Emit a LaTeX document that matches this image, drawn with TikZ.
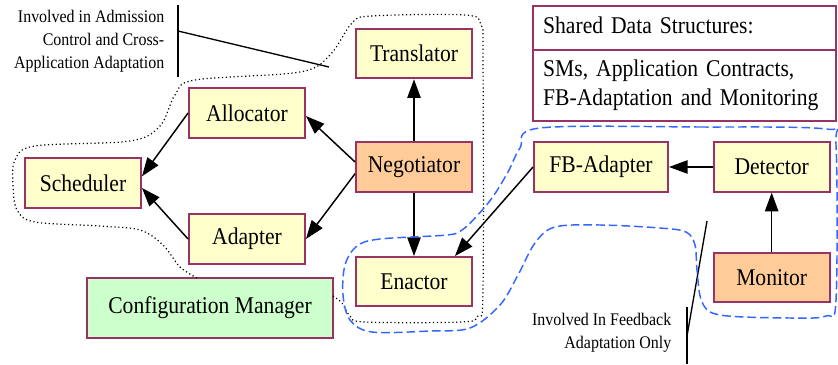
\documentclass[tikz,border=0pt]{standalone}
\usepackage{fontspec}
\setmainfont{Liberation Serif}[FakeStretch=0.9]
\usepackage{xcolor}
\usetikzlibrary{arrows.meta,shapes.multipart}

\definecolor{rim}{HTML}{993366}
\definecolor{paleyellow}{HTML}{FFFFCC}
\definecolor{paleorange}{HTML}{FFCC99}
\definecolor{palegreen}{HTML}{CCFFCC}
\definecolor{fbblue}{HTML}{3366FF}

\begin{document}
\begin{tikzpicture}[x=0.75pt,y=-0.75pt,->,>={Triangle[length=14pt,width=10pt]},line width=1.1pt]
    \tikzset{every box/.style={draw=rim,line width=1.4pt,minimum width=87pt,minimum height=37pt,
                               font=\fontsize{18}{19}\selectfont},
             box/.style={every box,fill=paleyellow},
             hot/.style={every box,fill=paleorange},
             note/.style={align=right,anchor=east,inner sep=0pt,font=\fontsize{13.3}{17.25}\selectfont},
             lead/.style={-,line width=1pt},
             region/.style={-,dotted,line width=0.9pt},
             fbregion/.style={-,dashed,draw=fbblue,line width=1.1pt,dash pattern=on 6.5pt off 3pt}}
    \useasboundingbox (0,0) rectangle (838,364);

    \node[hot] (neg) at (414,167)                     {Negotiator};
    \node[box] (trans) [above of=neg, node distance=85pt] {Translator};
    \node[box] (enac)  [below of=neg, node distance=86pt] {Enactor};
    \node[box] (alloc) at (247,113)                   {Allocator};
    \node[box] (adapt) [below of=alloc, node distance=94.5pt] {Adapter};
    \node[box] (sched) at (83,183)                    {Scheduler};
    \node[every box,fill=palegreen,minimum width=184.5pt,minimum height=45pt] (conf) at (210,308) {Configuration Manager};
    \node[box,minimum width=100.5pt] (fbad) at (601,167) {FB-Adapter};
    \node[box] (det) [right of=fbad, node distance=128pt] {Detector};
    \node[hot] (mon) [below of=det, node distance=83pt]   {Monitor};

    \node[draw=rim,line width=1.4pt,fill=white,rectangle split,rectangle split parts=2,
          text width=212pt,align=left,inner xsep=7.5pt,inner ysep=7pt,
          font=\fontsize{18}{21.5}\selectfont] (shared) at (684.5,63.5)
          {\rule[-4pt]{0pt}{17pt}Shared Data Structures:\nodepart{two}SMs, Application Contracts,\\FB-Adaptation and Monitoring};

    % notes
    \node[note] (admnote) at (165,41) {Involved in Admission\\Control and Cross-\\Application Adaptation};
    \node[note] (fbnote) at (672,333) {Involved In Feedback\\Adaptation Only};
    \coordinate (a1) at (178,5);
    \coordinate (a2) at (178,77);
    \coordinate (a3) at (178,31);
    \coordinate (a4) at (329,67);
    \coordinate (f1) at (687,307);
    \coordinate (f2) at (687,364);
    \coordinate (f3) at (687,336);
    \coordinate (f4) at (707,221);
    \draw[lead] (a1) -- (a2);
    \draw[lead] (a3) -- (a4);
    \draw[lead] (f1) -- (f2);
    \draw[lead] (f3) -- (f4);

    % connections
    \path (neg) edge (trans);
    \path ([yshift=3.75pt]neg.west) edge ([yshift=-2.25pt]alloc.east);
    \path ([yshift=-5pt]neg.west) edge (adapt.east);
    \path (neg) edge (enac);
    \path (alloc.west) edge ([yshift=5pt]sched.east);
    \path (adapt.west) edge ([yshift=-3.75pt]sched.east);
    \path (fbad.west) edge ([xshift=-13.5pt]enac.north east);
    \path (det) edge (fbad);
    \path (mon) edge (det);

    % regions
    \draw[region] plot[smooth,tension=0.55] coordinates {(197,278) (180,267) (163,245) (140,230) (100,226)
        (35,222) (17,210) (13,185) (15,160) (35,146) (130,141) (160,126) (175,95) (195,80) (300,72)
        (330,55) (352,23) (372,16) (465,15) (481,25) (483,60) (483,290) (478,316) (460,322)
        (365,322) (350,316) (342,303) (333,296)};
    \draw[fbregion] plot[smooth cycle,tension=0.55] coordinates {(540,128) (700,127) (826,129) (836,145)
        (836,300) (826,316) (790,318) (720,315) (702,302) (697,270) (695,245) (686,232) (660,228)
        (600,225) (555,227) (535,243) (518,275) (500,305) (470,328) (430,331) (372,332) (350,320)
        (343,295) (345,265) (357,246) (380,239) (447,235) (462,230) (475,218) (492,198) (508,172)
        (520,148)};
\end{tikzpicture}
\end{document}
